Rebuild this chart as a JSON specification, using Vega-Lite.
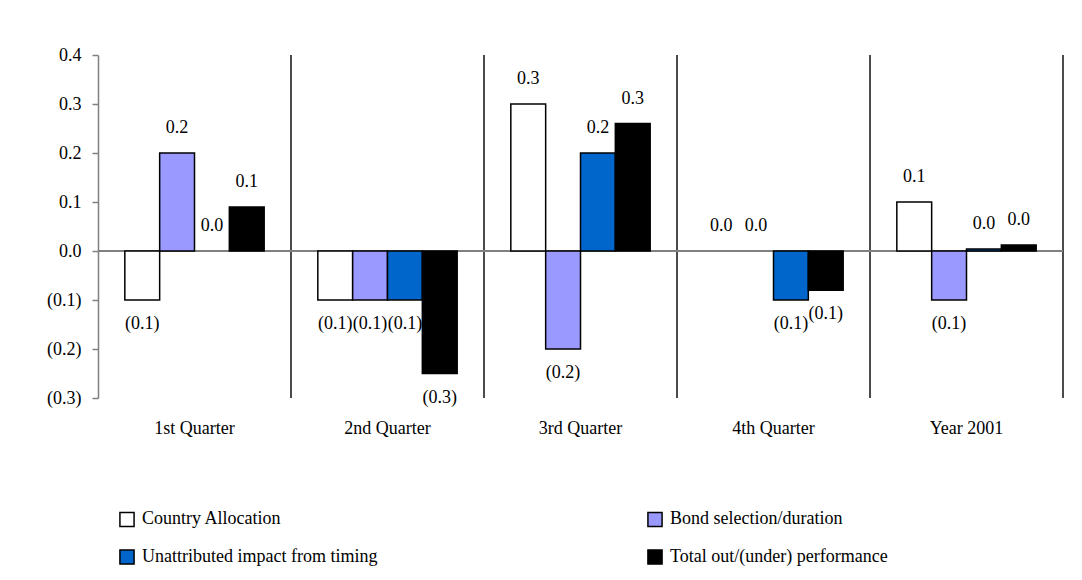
{
  "$schema": "https://vega.github.io/schema/vega-lite/v6.json",
  "width": 965,
  "height": 343,
  "autosize": {"type": "none"},
  "padding": {"left": 98, "top": 55, "right": 19, "bottom": 182},
  "background": "white",
  "config": {
    "view": {"stroke": null},
    "font": "Liberation Serif",
    "text": {"font": "Liberation Serif"},
    "axis": {"labelFont": "Liberation Serif", "labelFontSize": 18, "labelColor": "black"},
    "legend": {"labelFont": "Liberation Serif", "labelFontSize": 18, "labelColor": "black", "labelLimit": 500}
  },
  "data": {
    "values": [
      {"q": "1st Quarter", "s": "Country Allocation", "v": -0.1},
      {"q": "1st Quarter", "s": "Bond selection/duration", "v": 0.2},
      {"q": "1st Quarter", "s": "Unattributed impact from timing", "v": 0.0},
      {"q": "1st Quarter", "s": "Total out/(under) performance", "v": 0.09},
      {"q": "2nd Quarter", "s": "Country Allocation", "v": -0.1},
      {"q": "2nd Quarter", "s": "Bond selection/duration", "v": -0.1},
      {"q": "2nd Quarter", "s": "Unattributed impact from timing", "v": -0.1},
      {"q": "2nd Quarter", "s": "Total out/(under) performance", "v": -0.25},
      {"q": "3rd Quarter", "s": "Country Allocation", "v": 0.3},
      {"q": "3rd Quarter", "s": "Bond selection/duration", "v": -0.2},
      {"q": "3rd Quarter", "s": "Unattributed impact from timing", "v": 0.2},
      {"q": "3rd Quarter", "s": "Total out/(under) performance", "v": 0.26},
      {"q": "4th Quarter", "s": "Country Allocation", "v": 0.0},
      {"q": "4th Quarter", "s": "Bond selection/duration", "v": 0.0},
      {"q": "4th Quarter", "s": "Unattributed impact from timing", "v": -0.1},
      {"q": "4th Quarter", "s": "Total out/(under) performance", "v": -0.08},
      {"q": "Year 2001", "s": "Country Allocation", "v": 0.1},
      {"q": "Year 2001", "s": "Bond selection/duration", "v": -0.1},
      {"q": "Year 2001", "s": "Unattributed impact from timing", "v": 0.004},
      {"q": "Year 2001", "s": "Total out/(under) performance", "v": 0.012}
    ]
  },
  "encoding": {
    "x": {
      "field": "q", "type": "nominal", "sort": null,
      "scale": {"domain": ["1st Quarter", "2nd Quarter", "3rd Quarter", "4th Quarter", "Year 2001"], "paddingInner": 0, "paddingOuter": 0},
      "axis": {"title": null, "domain": false, "ticks": false, "labelAngle": 0, "labelPadding": 21}
    },
    "y": {
      "field": "v", "type": "quantitative",
      "scale": {"domain": [-0.3, 0.4], "nice": false, "zero": false},
      "axis": {
        "title": null, "grid": false,
        "values": [-0.3, -0.2, -0.1, 0, 0.1, 0.2, 0.3, 0.4],
        "labelExpr": "datum.value < 0 ? '(' + format(-datum.value, '.1f') + ')' : format(datum.value, '.1f')",
        "domainColor": "#808080", "domainWidth": 1.5, "tickColor": "#808080", "tickWidth": 1.5, "tickSize": 6,
        "labelPadding": 11
      }
    },
    "xOffset": {
      "field": "s", "type": "nominal", "sort": null,
      "scale": {"domain": ["Country Allocation", "Bond selection/duration", "Unattributed impact from timing", "Total out/(under) performance"], "paddingInner": 0, "paddingOuter": 0.77}
    }
  },
  "layer": [
    {
      "mark": {"type": "rule", "color": "#404040", "strokeWidth": 1},
      "encoding": {
        "x": {"field": "q", "type": "nominal", "sort": null, "bandPosition": 1},
        "y": null,
        "xOffset": null
      }
    },
    {
      "mark": {"type": "rule", "color": "#808080", "strokeWidth": 1.5},
      "encoding": {"x": null, "xOffset": null, "y": {"datum": 0, "type": "quantitative"}}
    },
    {
      "transform": [{"filter": "datum.v != 0"}],
      "mark": {"type": "bar", "stroke": "black", "strokeWidth": 1.5},
      "encoding": {
        "fill": {
          "field": "s", "type": "nominal", "sort": null,
          "scale": {
            "domain": ["Country Allocation", "Bond selection/duration", "Unattributed impact from timing", "Total out/(under) performance"],
            "range": ["#ffffff", "#9999ff", "#0066cc", "#000000"]
          },
          "legend": {
            "title": null, "orient": "none", "legendX": 20, "legendY": 455, "direction": "horizontal", "columns": 2,
            "symbolType": "square", "symbolSize": 200, "symbolStrokeColor": "black", "symbolStrokeWidth": 1.5,
            "labelOffset": 6, "columnPadding": 266, "rowPadding": 16, "padding": 0
          }
        }
      }
    },
    {
      "transform": [{"filter": "datum.v >= 0"}],
      "mark": {"type": "text", "baseline": "alphabetic", "dy": -20, "fontSize": 18, "color": "black"},
      "encoding": {
        "text": {"field": "v", "type": "quantitative", "format": ".1f"}
      }
    },
    {
      "transform": [{"filter": "datum.v < 0"}],
      "mark": {"type": "text", "baseline": "alphabetic", "dy": 29, "fontSize": 18, "color": "black"},
      "encoding": {
        "text": {"value": {"expr": "'(' + format(-datum.v, '.1f') + ')'"}}
      }
    }
  ]
}
